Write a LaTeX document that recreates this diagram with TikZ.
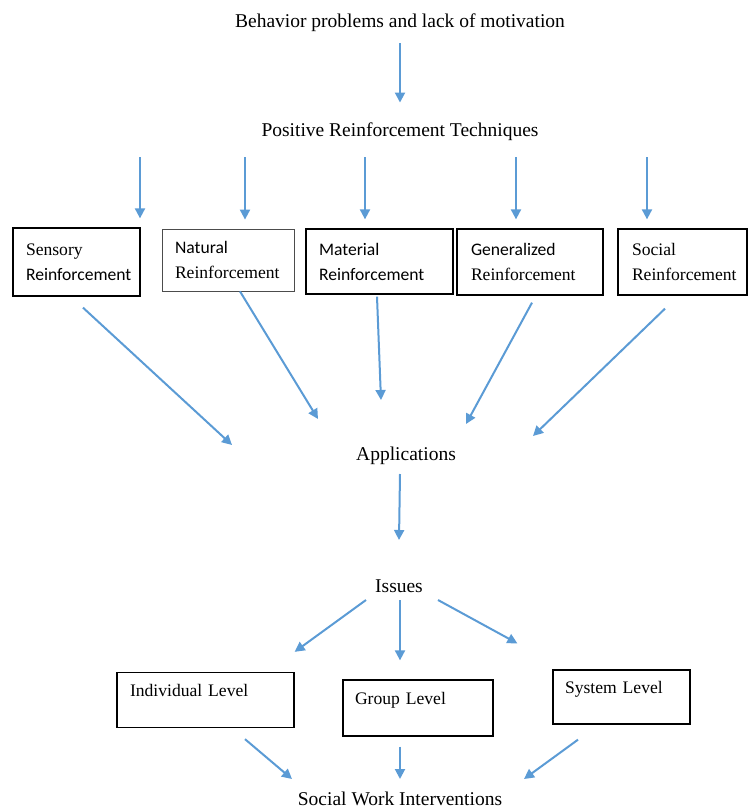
\documentclass[tikz,border=0pt]{standalone}
\usepackage{fontspec}
\setmainfont{Liberation Serif}
\newfontfamily\calibri{Carlito}
\usetikzlibrary{arrows.meta,calc}
\definecolor{arrowblue}{RGB}{91,155,213}

\begin{document}
\begin{tikzpicture}[x=1pt,y=-1pt,
	every node/.style={font=\fontsize{19.5}{25}\selectfont},
	arr/.style={draw=arrowblue, line width=2pt, -{Triangle[length=10pt,width=10pt]}},
	box/.style={draw, line width=1.3pt, align=left, inner xsep=13pt, font=\fontsize{17.6}{25}\selectfont},
	thinbox/.style={box, draw=black!70, line width=0.8pt}]
	\useasboundingbox (0,0) rectangle (748,809);
	% top
	\node (prob) at (400,23) {Behavior problems and lack of motivation};
	\node (tech) at (400,132) {Positive Reinforcement Techniques};
	\coordinate (fan) at (400,157);
	% five kinds
	\node[box, minimum width=127, minimum height=68, text width=101] (sens) at (76.5,262) {Sensory\\{\calibri Reinforcement}};
	\node[thinbox, minimum width=132, minimum height=62, text width=106] (nat) at (228,260) {{\calibri Natural}\\Reinforcement};
	\node[box, minimum width=147, minimum height=65, text width=121] (mat) at (379.5,261.5) {\calibri Material\\Reinforcement};
	\node[box, minimum width=146, minimum height=66, text width=118, inner xsep=14pt] (gen) at (530,262) {{\calibri Generalized}\\Reinforcement};
	\node[box, minimum width=129, minimum height=66, text width=101, inner xsep=14pt] (soc) at (682.5,262) {Social\\Reinforcement};
	\node (app) at (406,456) {Applications};
	\node (iss) at (399,586) {Issues};
	% levels
	\node[box, minimum width=177, minimum height=55, text width=151] (ind) at (205.5,700) {Individual Level\\[-5pt]\mbox{}};
	\node[box, minimum width=150, minimum height=56, text width=126, inner xsep=12pt] (grp) at (418,708) {Group Level\\[-5pt]\mbox{}};
	\node[box, minimum width=137, minimum height=54, text width=113, inner xsep=12pt] (sys) at (621.5,697) {System Level\\[-5pt]\mbox{}};
	\node (sw) at (400,798.5) {Social Work Interventions};

	\draw[arr, shorten <=8pt, shorten >=17pt] (prob.south) -- (tech.north);
	\foreach \n/\dx in {sens/63.5, nat/17, mat/-14.5, gen/-14, soc/-35.5}
		\draw[arr] ([xshift=\dx pt]\n.north |- fan) -- ([xshift=\dx pt,yshift=9pt]\n.north);
	\foreach \n/\tx/\ty/\hx/\hy in {sens/6.5/-11/-174/11, nat/12/0/-88/37, mat/-2.5/-2/-25/56, gen/2/-7/60/32, soc/-17.5/-13/127/20}
		\draw[arr] ([xshift=\tx pt,yshift=\ty pt]\n.south) -- ([xshift=\hx pt,yshift=\hy pt]app.center);
	\draw[arr] ([xshift=-6pt,yshift=-18pt]app.center) -- ([yshift=46pt]iss.center);
	\draw[arr] ([xshift=-33pt,yshift=-14pt]iss.center) -- ([yshift=20pt]ind.north east);
	\draw[arr] ([xshift=1pt,yshift=-14pt]iss.center) -- ([xshift=-18pt,yshift=19pt]grp.north);
	\draw[arr] ([xshift=39pt,yshift=-14pt]iss.center) -- ([xshift=-35pt,yshift=26pt]sys.north west);
	\draw[arr] ([xshift=39.5pt,yshift=-11pt]ind.south) -- ([xshift=-108pt,yshift=19.5pt]sw.center);
	\draw[arr] ([xshift=-18pt,yshift=-10pt]grp.south) -- ([yshift=19.5pt]sw.center);
	\draw[arr] ([xshift=-43.5pt,yshift=-15pt]sys.south) -- ([xshift=124pt,yshift=19.5pt]sw.center);
\end{tikzpicture}
\end{document}
